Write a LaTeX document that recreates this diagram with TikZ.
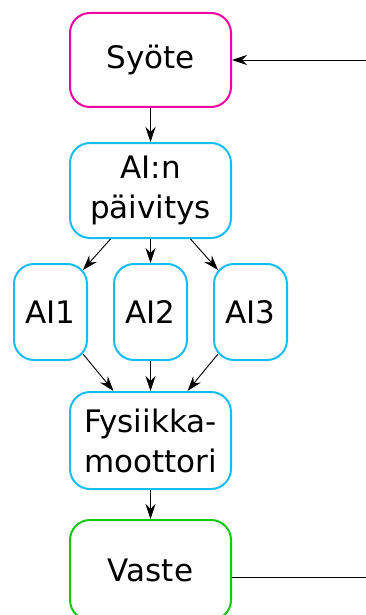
\documentclass[tikz,border=0pt]{standalone}
\usepackage{fontspec}
\setmainfont{DejaVu Sans}
\usetikzlibrary{arrows.meta,calc}
\definecolor{cmag}{RGB}{240,0,160}
\definecolor{ccyan}{RGB}{20,190,240}
\definecolor{cgreen}{RGB}{20,200,20}
\begin{document}
\begin{tikzpicture}[x=1pt,y=1pt,
  box/.style={draw, line width=2pt, rounded corners=20pt, align=center, inner sep=0pt,
    font=\fontsize{31}{40}\selectfont},
  wide/.style={box, minimum width=161pt, minimum height=95pt},
  narrow/.style={box, minimum width=73pt, minimum height=96pt},
  conn/.style={line width=0.9pt, -{Stealth[length=15pt,width=10pt,inset=5pt]}},
  plain/.style={line width=0.9pt}]
\useasboundingbox (0,0) rectangle (366,-615);
\node[wide, draw=cmag, minimum height=94pt] (s) at (150.5,-60) {Syöte};
\node[wide, draw=ccyan] (p) at (150.5,-190.5) {AI:n\\päivitys};
\node[narrow, draw=ccyan] (a1) at (50.5,-312) {AI1};
\node[narrow, draw=ccyan] (a2) at (150.5,-312) {AI2};
\node[narrow, draw=ccyan] (a3) at (250.5,-312) {AI3};
\node[wide, draw=ccyan, minimum height=97pt] (f) at (150.5,-440.5) {Fysiikka-\\moottori};
\node[wide, draw=cgreen, minimum height=100pt] (v) at (150.5,-570) {Vaste};
\coordinate (r1) at (367,-60);
\coordinate (r2) at (367,-577);
\draw[conn] (r1) -- (s.east);
\draw[conn] (s) -- (p);
\draw[conn] ($(p.south)+(-40,0)$) -- ($(a1.north east)+(-5,-7)$);
\draw[conn] (p.south) -- (a2.north);
\draw[conn] ($(p.south)+(40,0)$) -- ($(a3.north west)+(5,-7)$);
\draw[conn] ($(a1.south east)+(-5,7)$) -- ($(f.north)+(-37,0)$);
\draw[conn] (a2.south) -- (f.north);
\draw[conn] ($(a3.south west)+(5,7)$) -- ($(f.north)+(37,0)$);
\draw[conn] (f) -- (v);
\draw[plain] (v.east |- r2) -- (r2);
\end{tikzpicture}
\end{document}
